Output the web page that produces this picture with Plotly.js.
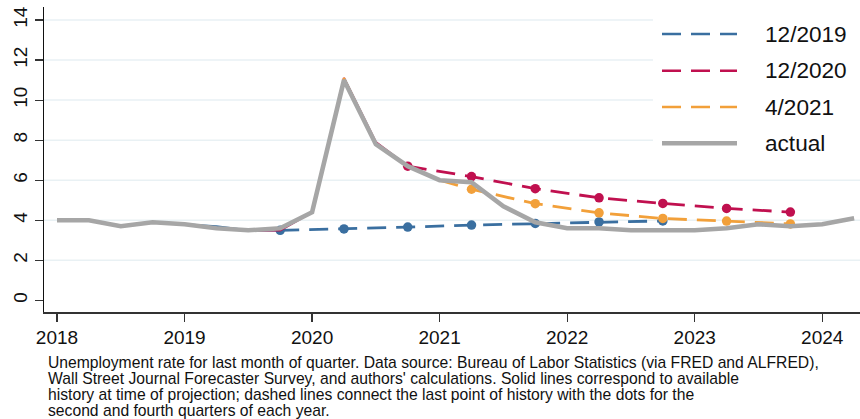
<!DOCTYPE html>
<html>
<head>
<meta charset="utf-8">
<script src="https://cdn.plot.ly/plotly-3.0.1.min.js"></script>
<style>
  html, body { margin: 0; padding: 0; background: #ffffff; }
  #chart { width: 860px; height: 419px; }
</style>
</head>
<body>
<div id="chart"></div>
<script>
// Unemployment rate, last month of each quarter, plotted at the quarter's start (year + q/4)
const actualX = [2018.00, 2018.25, 2018.50, 2018.75, 2019.00, 2019.25, 2019.50, 2019.75,
                 2020.00, 2020.25, 2020.50, 2020.75, 2021.00, 2021.25, 2021.50, 2021.75,
                 2022.00, 2022.25, 2022.50, 2022.75, 2023.00, 2023.25, 2023.50, 2023.75,
                 2024.00, 2024.25];
const actualY = [4.0, 4.0, 3.7, 3.9, 3.8, 3.6, 3.5, 3.6,
                 4.4, 11.0, 7.8, 6.7, 6.0, 5.9, 4.7, 3.9,
                 3.6, 3.6, 3.5, 3.5, 3.5, 3.6, 3.8, 3.7,
                 3.8, 4.1];

// History available at the time of each projection (vintage data)
const hist1219X = [2018.00, 2018.25, 2018.50, 2018.75, 2019.00, 2019.25, 2019.50, 2019.75];
const hist1219Y = [4.0, 4.0, 3.7, 3.9, 3.8, 3.7, 3.5, 3.5];
const hist1220X = [2018.00, 2018.25, 2018.50, 2018.75, 2019.00, 2019.25, 2019.50, 2019.75,
                   2020.00, 2020.25, 2020.50, 2020.75];
const hist1220Y = [4.0, 4.0, 3.7, 3.9, 3.8, 3.6, 3.5, 3.5,
                   4.4, 11.1, 7.9, 6.7];
const hist0421X = [2018.00, 2018.25, 2018.50, 2018.75, 2019.00, 2019.25, 2019.50, 2019.75,
                   2020.00, 2020.25, 2020.50, 2020.75, 2021.00];
const hist0421Y = [4.0, 4.0, 3.7, 3.9, 3.8, 3.6, 3.5, 3.6,
                   4.4, 11.1, 7.8, 6.7, 6.0];

// Projections: last point of history, then the Q2 / Q4 forecasts
const proj1219X = [2019.75, 2020.25, 2020.75, 2021.25, 2021.75, 2022.25, 2022.75];
const proj1219Y = [3.5, 3.57, 3.66, 3.76, 3.84, 3.92, 3.97];
const proj1220X = [2020.75, 2021.25, 2021.75, 2022.25, 2022.75, 2023.25, 2023.75];
const proj1220Y = [6.7, 6.18, 5.58, 5.12, 4.84, 4.59, 4.41];
const proj0421X = [2021.00, 2021.25, 2021.75, 2022.25, 2022.75, 2023.25, 2023.75];
const proj0421Y = [6.0, 5.55, 4.83, 4.37, 4.09, 3.96, 3.82];

const seriesNames = ['12/2019', '12/2020', '4/2021', 'actual'];
const xTickVals = [2018, 2019, 2020, 2021, 2022, 2023, 2024];
const xTickText = ['2018', '2019', '2020', '2021', '2022', '2023', '2024'];
const yTickVals = [0, 2, 4, 6, 8, 10, 12, 14];
const yTickText = ['0', '2', '4', '6', '8', '10', '12', '14'];

const captionLines = [
  'Unemployment rate for last month of quarter. Data source: Bureau of Labor Statistics (via FRED and ALFRED),',
  "Wall Street Journal Forecaster Survey, and authors' calculations. Solid lines correspond to available",
  'history at time of projection; dashed lines connect the last point of history with the dots for the',
  'second and fourth quarters of each year.'
];

const COLORS = ['#3a6fa0', '#c0104f', '#f2a03a', '#a6a6a6'];
const FONT = 'Arial, "Liberation Sans", Helvetica, sans-serif';
const DASH = '19px,10px';

// plot area in pixels
const W = 860, H = 419, ML = 44, MR = 0, MT = 7, MB = 107;
const PW = W - ML - MR, PH = H - MT - MB;
const px = v => (v - ML) / PW;      // page x pixel -> paper x
const py = v => (H - MB - v) / PH;  // page y pixel -> paper y

// dots only on second and fourth quarters
const dotSizes = xs => xs.map(x => (Math.round(x * 4) % 2 === 1 ? 9.5 : 0));

const histTrace = (x, y, color) => ({
  x, y, type: 'scatter', mode: 'lines', hoverinfo: 'skip', showlegend: false,
  line: { color, width: 2.2 }
});
const projTrace = (x, y, color) => ({
  x, y, type: 'scatter', mode: 'lines+markers', hoverinfo: 'skip', showlegend: false,
  line: { color, width: 2.8, dash: DASH },
  marker: { color, size: dotSizes(x), opacity: 1, line: { width: 0 } }
});

const data = [
  histTrace(hist1219X, hist1219Y, COLORS[0]),
  projTrace(proj1219X, proj1219Y, COLORS[0]),
  histTrace(hist1220X, hist1220Y, COLORS[1]),
  projTrace(proj1220X, proj1220Y, COLORS[1]),
  histTrace(hist0421X, hist0421Y, COLORS[2]),
  projTrace(proj0421X, proj0421Y, COLORS[2]),
  {
    x: actualX, y: actualY, type: 'scatter', mode: 'lines', hoverinfo: 'skip', showlegend: false,
    line: { color: COLORS[3], width: 4.6 }
  }
];

const shapes = [];
const annotations = [];

// light horizontal gridlines; the upper ones stop where the key sits
yTickVals.filter(v => v > 0).forEach(v => {
  shapes.push({
    type: 'line', layer: 'below', xref: 'paper', yref: 'y',
    x0: 0, x1: v >= 8 ? px(653) : 1, y0: v, y1: v,
    line: { color: '#e9f1f4', width: 1.5 }
  });
});

// key
const keyRows = [34, 70.7, 107, 143.3];
seriesNames.forEach((name, i) => {
  const isActual = i === 3;
  shapes.push({
    type: 'line', xref: 'paper', yref: 'paper',
    x0: px(662), x1: px(737), y0: py(keyRows[i]), y1: py(keyRows[i]),
    line: { color: COLORS[i], width: isActual ? 4.4 : 2.6, dash: isActual ? 'solid' : DASH }
  });
  annotations.push({
    xref: 'paper', yref: 'paper', x: px(763), y: py(keyRows[i]),
    xanchor: 'left', yanchor: 'middle', showarrow: false,
    text: name, font: { family: FONT, size: 22.6, color: '#111' }
  });
});

// caption below the axis
const captionCenters = [362.5, 378.5, 394.5, 410.5];
captionLines.forEach((line, i) => {
  annotations.push({
    xref: 'paper', yref: 'paper', x: px(46), y: py(captionCenters[i]),
    xanchor: 'left', yanchor: 'middle', showarrow: false, align: 'left',
    text: line, font: { family: FONT, size: 15.7, color: '#111' }
  });
});

const layout = {
  width: W, height: H,
  margin: { l: ML, r: MR, t: MT, b: MB, pad: 0 },
  paper_bgcolor: '#ffffff', plot_bgcolor: 'rgba(0,0,0,0)',
  showlegend: false,
  font: { family: FONT, color: '#111' },
  xaxis: {
    range: [2017.898, 2024.296], tickvals: xTickVals, ticktext: xTickText,
    ticks: 'outside', ticklen: 8, tickwidth: 1.2, tickcolor: '#333',
    showline: true, linecolor: '#333', linewidth: 1.5, mirror: false,
    showgrid: false, zeroline: false, fixedrange: true,
    tickfont: { family: FONT, size: 19, color: '#111' }
  },
  yaxis: {
    range: [-0.58, 14.65], tickvals: yTickVals, ticktext: yTickText, tickangle: -90,
    ticks: 'outside', ticklen: 8, tickwidth: 1.2, tickcolor: '#333',
    showline: true, linecolor: '#111', linewidth: 1.2, ticklabelstandoff: 0,
    showgrid: false, zeroline: false, fixedrange: true,
    tickfont: { family: FONT, size: 19, color: '#111' }
  },
  shapes, annotations
};

Plotly.newPlot('chart', data, layout, { staticPlot: true, displayModeBar: false });
</script>
</body>
</html>
